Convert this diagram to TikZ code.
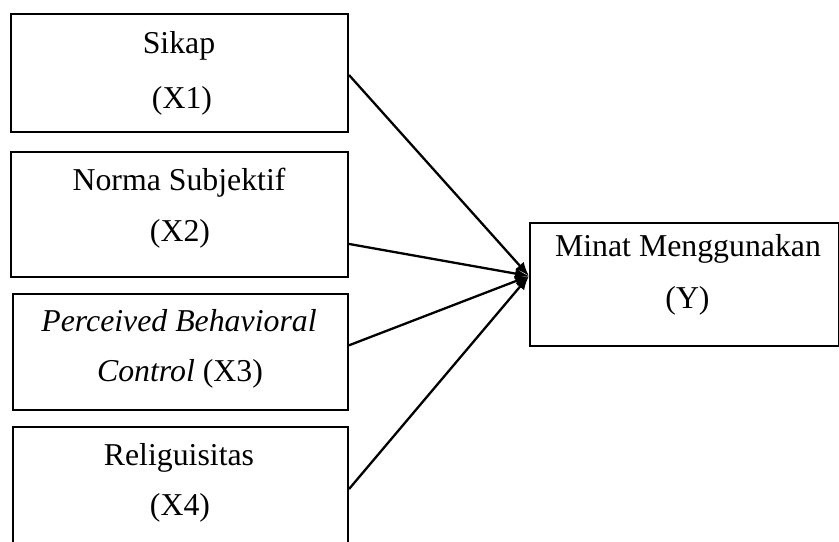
\documentclass[tikz,border=0pt]{standalone}
\usepackage{fontspec}
\setmainfont{Liberation Serif}
\usetikzlibrary{arrows.meta}
\begin{document}
\begin{tikzpicture}[x=0.5pt,y=-0.5pt,
  box/.style={draw,line width=1pt,inner sep=0pt,anchor=north west},
  txt/.style={anchor=base,inner sep=0pt,font=\fontsize{15.9}{19}\selectfont},
  conn/.style={line width=1.15pt,-{Latex[length=7pt,width=5.5pt]}}]
\useasboundingbox (0,0) rectangle (839,541);
\clip (0,0) rectangle (839,541);
% boxes
\node[box,minimum width=168.5pt,minimum height=59pt] (b1) at (10,12.7) {};
\node[box,minimum width=168.5pt,minimum height=62.65pt] (b2) at (10,150.7) {};
\node[box,minimum width=167.5pt,minimum height=58pt] (b3) at (12,292.7) {};
\node[box,minimum width=167.5pt,minimum height=67.15pt] (b4) at (12,425.7) {};
\node[box,minimum width=154.5pt,minimum height=61.8pt] (bY) at (529,221.7) {};
% texts
\node[txt] (t1a) at (179,53.3) {Sikap};
\node[txt] (t1b) at (182,108) {(X1)};
\node[txt] (t2a) at (179,190.7) {Norma Subjektif};
\node[txt] (t2b) at (180,241.7) {(X2)};
\node[txt] (t3a) at (179,331.7) {\textit{Perceived Behavioral}};
\node[txt] (t3b) at (180,381.7) {\textit{Control} (X3)};
\node[txt] (t4a) at (179,465) {Religuisitas};
\node[txt] (t4b) at (180,515) {(X4)};
\node[txt] (tYa) at (688,256.7) {Minat Menggunakan};
\node[txt] (tYb) at (687.5,308.3) {(Y)};
% connectors
\coordinate (tgt) at ([yshift=4.25pt]bY.west);
\draw[conn] ([yshift=-1.15pt]b1.east) -- (tgt);
\draw[conn] ([yshift=-14.8pt]b2.east) -- (tgt);
\draw[conn] ([yshift=3.2pt]b3.east) -- (tgt);
\draw[conn] ([yshift=2.4pt]b4.east) -- (tgt);
\end{tikzpicture}
\end{document}
